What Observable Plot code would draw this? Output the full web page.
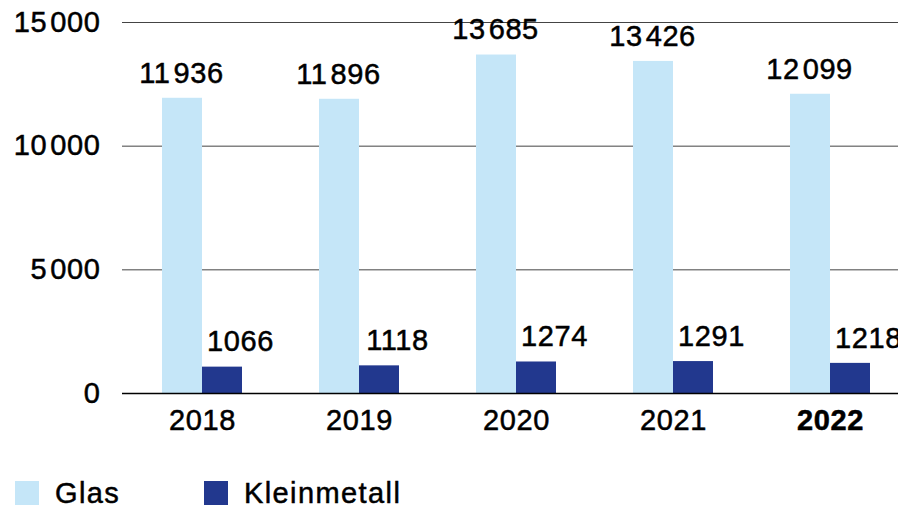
<!DOCTYPE html>
<html>
<head>
<meta charset="utf-8">
<script src="https://cdn.jsdelivr.net/npm/d3@7"></script>
<script src="https://cdn.jsdelivr.net/npm/@observablehq/plot@0.6"></script>
<style>
  html, body { margin: 0; padding: 0; background: #fff; }
  #wrap { position: relative; width: 898px; height: 508px; overflow: hidden; font-family: "Liberation Sans", Arial, sans-serif; }
  #wrap svg text { letter-spacing: 0.6px; stroke: #000; stroke-width: 0.5px; }
  .legend { position: absolute; top: 481px; left: 15px; display: flex; align-items: center; font-size: 29px; line-height: 24px; height: 24px; letter-spacing: 1.4px; color: #000; -webkit-text-stroke: 0.5px #000; }
  .sw { width: 24px; height: 24px; display: inline-block; }
  .item { display: flex; align-items: center; height: 24px; }
</style>
</head>
<body>
<div id="wrap"></div>
<script>
const years = ["2018", "2019", "2020", "2021", "2022"];
const glas = [11936, 11896, 13685, 13426, 12099];
const kleinmetall = [1066, 1118, 1274, 1291, 1218];
const yTicks = [0, 5000, 10000, 15000];
const seriesNames = ["Glas", "Kleinmetall"];
const colors = ["#c5e6f8", "#22388e"];

const thin = "\u200A";
const group = n => d3.format(",")(n).replace(/,/g, thin);
const axisFmt = n => group(n);
const labelFmt = n => n >= 10000 ? group(n) : String(n);

const glasData = years.map((y, i) => ({year: y, value: glas[i]}));
const kleinData = years.map((y, i) => ({year: y, value: kleinmetall[i]}));

const H = 460;
const chart = Plot.plot({
  width: 898,
  height: H,
  marginLeft: 122,
  marginRight: 0,
  marginTop: 22,
  marginBottom: H - 393,
  style: {fontFamily: "'Liberation Sans', Arial, sans-serif", fontSize: "29px", color: "#000", background: "#fff"},
  x: {domain: years, range: [123.5, 908.5], paddingInner: 0.49, paddingOuter: 0.245, axis: null},
  y: {domain: [0, 15000], range: [393, 22], axis: null},
  marks: [
    Plot.ruleY(yTicks.filter(d => d > 0), {stroke: "#444", strokeWidth: 1}),
    Plot.barY(glasData, {x: "year", y: "value", fill: colors[0], insetRight: 40}),
    Plot.barY(kleinData, {x: "year", y: "value", fill: colors[1], insetLeft: 40}),
    Plot.ruleY([0], {stroke: "#000", strokeWidth: 1.5}),
    Plot.text(glasData, {x: "year", y: "value", text: d => labelFmt(d.value), dx: -21, dy: -25, fill: "#000"}),
    Plot.text(kleinData, {x: "year", y: "value", text: d => labelFmt(d.value), dx: 38, dy: -25, fill: "#000"}),
    Plot.text(yTicks, {x: null, y: d => d, text: axisFmt, frameAnchor: "left", dx: -22, textAnchor: "end", fill: "#000"}),
    Plot.text(years.filter(y => y !== "2022"), {x: d => d, y: 0, text: d => d, dy: 27, fill: "#000"}),
    Plot.text(years.filter(y => y === "2022"), {x: d => d, y: 0, text: d => d, dy: 27, fill: "#000", fontWeight: "bold"})
  ]
});
const wrap = document.getElementById("wrap");
wrap.appendChild(chart);

const legend = document.createElement("div");
legend.className = "legend";
seriesNames.forEach((name, i) => {
  const item = document.createElement("div");
  item.className = "item";
  const sw = document.createElement("span");
  sw.className = "sw";
  sw.style.background = colors[i];
  const t = document.createElement("span");
  t.textContent = name;
  t.style.marginLeft = "16px";
  item.appendChild(sw);
  item.appendChild(t);
  if (i === 0) item.style.width = "189px";
  legend.appendChild(item);
});
wrap.appendChild(legend);
</script>
</body>
</html>
